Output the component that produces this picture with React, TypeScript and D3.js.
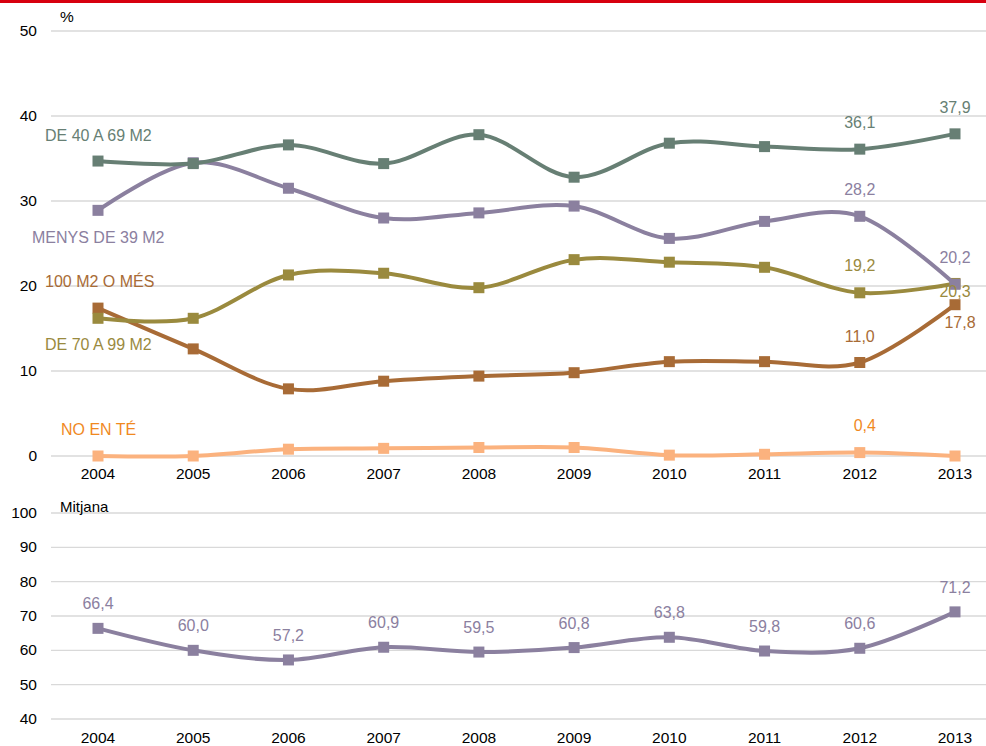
import * as d3 from "d3";
import React from "react";

const years = ["2004", "2005", "2006", "2007", "2008", "2009", "2010", "2011", "2012", "2013"];

const de40a69 = [34.7, 34.4, 36.6, 34.4, 37.8, 32.8, 36.8, 36.4, 36.1, 37.9];
const menys39 = [28.9, 34.5, 31.5, 28.0, 28.6, 29.4, 25.6, 27.6, 28.2, 20.2];
const de70a99 = [16.2, 16.2, 21.3, 21.5, 19.8, 23.1, 22.8, 22.2, 19.2, 20.3];
const mes100 = [17.4, 12.6, 7.9, 8.8, 9.4, 9.8, 11.1, 11.1, 11.0, 17.8];
const noEnTe = [0.0, 0.0, 0.8, 0.9, 1.0, 1.0, 0.1, 0.2, 0.4, 0.0];
const mitjana = [66.4, 60.0, 57.2, 60.9, 59.5, 60.8, 63.8, 59.8, 60.6, 71.2];

const topTicks = [0, 10, 20, 30, 40, 50];
const bottomTicks = [40, 50, 60, 70, 80, 90, 100];

const FONT = "'Liberation Sans', Arial, sans-serif";

const fmt = (v: number) => v.toFixed(1).replace(".", ",");

interface Series {
    name: string;
    values: number[];
    line: string;
    text: string;
    labelX: number;
    labelY: number;
    // value labels shown: [index, dx, dy]
    valueLabels: Array<[number, number, number]>;
}

const series: Series[] = [
    { name: "NO EN TÉ", values: noEnTe, line: "#fbb27e", text: "#f0891f", labelX: 61, labelY: 435, valueLabels: [[8, 5, -22]] },
    { name: "100 M2 O MÉS", values: mes100, line: "#a86b36", text: "#a86b36", labelX: 45, labelY: 287, valueLabels: [[8, 0, -21], [9, 5, 23]] },
    { name: "DE 70 A 99 M2", values: de70a99, line: "#9a8a3e", text: "#9a8a3e", labelX: 45, labelY: 350, valueLabels: [[8, 0, -22], [9, 0, 14]] },
    { name: "MENYS DE 39 M2", values: menys39, line: "#8b809f", text: "#8b809f", labelX: 32, labelY: 243, valueLabels: [[8, 0, -21], [9, 0, -21]] },
    { name: "DE 40 A 69 M2", values: de40a69, line: "#677f74", text: "#677f74", labelX: 45, labelY: 141, valueLabels: [[8, 0, -21], [9, 0, -21]] },
];

export default function App() {
    const width = 986;
    const height = 746;
    const gridLeft = 51;

    const x = d3.scalePoint<string>().domain(years).range([98, 955]);
    const yTop = d3.scaleLinear().domain([0, 50]).range([456, 31]);
    const yBot = d3.scaleLinear().domain([40, 100]).range([719, 513]);

    const lineTop = d3.line<number>()
        .x((_, i) => x(years[i]) as number)
        .y(d => yTop(d))
        .curve(d3.curveCardinal.tension(0));
    const lineBot = d3.line<number>()
        .x((_, i) => x(years[i]) as number)
        .y(d => yBot(d))
        .curve(d3.curveCardinal.tension(0));

    const m = 11;

    return (
        <svg width={width} height={height} style={{ position: "absolute", left: 0, top: 0, background: "#fff" }} fontFamily={FONT}>
            <rect x={0} y={0} width={width} height={3} fill="#d7000f" />

            {/* top chart grid */}
            {topTicks.map(t => (
                <g key={"t" + t}>
                    <line x1={gridLeft} x2={width} y1={yTop(t)} y2={yTop(t)} stroke="#d9d9d9" strokeWidth={1.3} />
                    <text x={37} y={yTop(t) + 5} textAnchor="end" fontSize={15.5} fill="#000">{t}</text>
                </g>
            ))}
            <text x={60} y={22} fontSize={15.5} fill="#000">%</text>
            {years.map(yr => (
                <text key={"xt" + yr} x={x(yr)} y={479} textAnchor="middle" fontSize={15.5} fill="#000">{yr}</text>
            ))}

            {series.map(s => (
                <g key={s.name}>
                    <path d={lineTop(s.values) || ""} fill="none" stroke={s.line} strokeWidth={4} />
                    {s.values.map((v, i) => (
                        <rect key={i} x={(x(years[i]) as number) - m / 2} y={yTop(v) - m / 2} width={m} height={m} fill={s.line} />
                    ))}
                </g>
            ))}
            {series.map(s => (
                <g key={s.name + "-lbl"}>
                    <text x={s.labelX} y={s.labelY} fontSize={16} fill={s.text}>{s.name}</text>
                    {s.valueLabels.map(([i, dx, dy]) => (
                        <text key={i} x={(x(years[i]) as number) + dx} y={yTop(s.values[i]) + dy} textAnchor="middle" fontSize={16} fill={s.text}>{fmt(s.values[i])}</text>
                    ))}
                </g>
            ))}

            {/* bottom chart */}
            {bottomTicks.map(t => (
                <g key={"b" + t}>
                    <line x1={gridLeft} x2={width} y1={yBot(t)} y2={yBot(t)} stroke="#d9d9d9" strokeWidth={1.3} />
                    <text x={37} y={yBot(t) + 5} textAnchor="end" fontSize={15.5} fill="#000">{t}</text>
                </g>
            ))}
            <text x={60} y={512} fontSize={15} fill="#000">Mitjana</text>
            {years.map(yr => (
                <text key={"xb" + yr} x={x(yr)} y={743} textAnchor="middle" fontSize={15.5} fill="#000">{yr}</text>
            ))}
            <path d={lineBot(mitjana) || ""} fill="none" stroke="#8b809f" strokeWidth={4} />
            {mitjana.map((v, i) => (
                <g key={"m" + i}>
                    <rect x={(x(years[i]) as number) - m / 2} y={yBot(v) - m / 2} width={m} height={m} fill="#8b809f" />
                    <text x={x(years[i])} y={yBot(v) - 19} textAnchor="middle" fontSize={16} fill="#8b809f">{fmt(v)}</text>
                </g>
            ))}
        </svg>
    );
}
